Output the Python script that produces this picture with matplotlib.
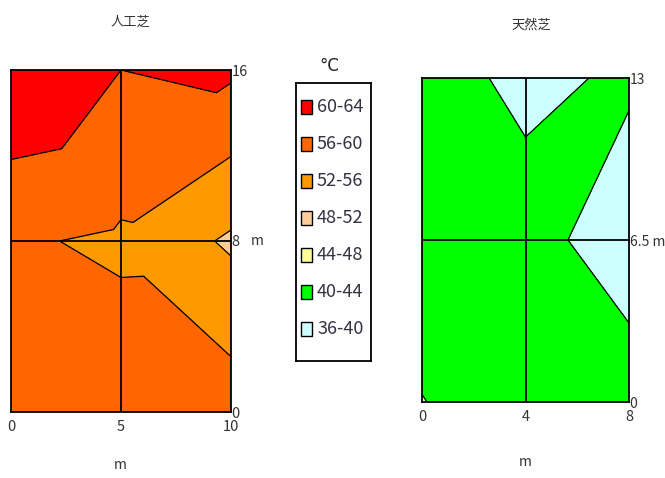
import numpy as np
import matplotlib
matplotlib.use("Agg")
import matplotlib.pyplot as plt
import matplotlib.tri as mtri
from matplotlib.patches import Rectangle

plt.rcParams['font.family'] = ['Noto Sans CJK JP', 'DejaVu Sans']

# surface temperature (degC) on a 3x3 grid of measuring points, rows = y
art_x = [0, 5, 10]
art_y = [0, 8, 16]
art_temp = [[57.5, 58.1, 58.2],
            [56.45, 55.43, 51.4],
            [63.9, 60.0, 60.7]]

nat_x = [0, 4, 8]
nat_y = [0, 6.5, 13]
nat_temp = [[39.9, 42.0, 42.38],
            [42.0, 41.74, 37.5],
            [41.84, 39.0, 40.63]]

levels = [36, 40, 44, 48, 52, 56, 60, 64]
band_names = ["36-40", "40-44", "44-48", "48-52", "52-56", "56-60", "60-64"]
band_colors = ["#ccffff", "#00ff00", "#ffff99", "#ffcc99", "#ff9900", "#ff6600", "#ff0000"]

W, H = 665, 478
fig = plt.figure(figsize=(W/100, H/100), dpi=100)
fig.patch.set_facecolor("white")

def px_axes(x0, y0, x1, y1):
    return fig.add_axes([x0/W, 1-y1/H, (x1-x0)/W, (y1-y0)/H])

def split_cells():
    # two triangles per cell; the upper-right cell is cut along the other diagonal
    tris = []
    for r in range(2):
        for c in range(2):
            bl, br, tl, tr = r*3+c, r*3+c+1, (r+1)*3+c, (r+1)*3+c+1
            if (c, r) == (1, 1):
                tris += [[bl, br, tr], [bl, tr, tl]]
            else:
                tris += [[bl, br, tl], [br, tr, tl]]
    return tris

def panel(ax, xs, ys, temp, ylabels):
    gx, gy = np.meshgrid(xs, ys)
    tri = mtri.Triangulation(gx.ravel(), gy.ravel(), split_cells())
    z = np.asarray(temp).ravel()
    ax.tricontourf(tri, z, levels=levels, colors=band_colors)
    ax.tricontour(tri, z, levels=levels, colors="black", linewidths=0.9)
    ax.axvline(xs[1], color="black", lw=1.3)
    ax.axhline(ys[1], color="black", lw=1.3)
    ax.set_xlim(xs[0], xs[-1]); ax.set_ylim(ys[0], ys[-1])
    ax.set_xticks(xs); ax.set_xticklabels([f"{v:g}" for v in xs])
    ax.set_yticks(ys); ax.set_yticklabels(ylabels)
    ax.yaxis.tick_right()
    ax.tick_params(length=0, labelsize=10.5, colors="#333333", pad=6)
    ax.tick_params(axis="y", pad=0.5)
    for s in ax.spines.values():
        s.set_linewidth(1.3); s.set_color("black")

ax1 = px_axes(11, 70, 231, 412)
panel(ax1, art_x, art_y, art_temp, ["0", "8", "16"])
ax1.annotate("m", (1, 0.5), xycoords="axes fraction", xytext=(14, 0),
             textcoords="offset points", va="center", fontsize=10, color="#333333")

ax2 = px_axes(422, 78, 629, 402)
panel(ax2, nat_x, nat_y, nat_temp, ["0", "6.5 m", "13"])
ax2.tick_params(axis="y", labelsize=10)

fig.text(130/W, 1-22/H, "人工芝", ha="center", va="center", fontsize=9.5, color="#333333")
fig.text(531/W, 1-25/H, "天然芝", ha="center", va="center", fontsize=9.5, color="#333333")
fig.text(120/W, 1-465/H, "m", ha="center", va="center", fontsize=10, color="#333333")
fig.text(525/W, 1-462/H, "m", ha="center", va="center", fontsize=10, color="#333333")
fig.text(329/W, 1-66/H, "°C", ha="center", va="center", fontsize=12, color="#222222",
         family=["DejaVu Sans"])

# legend drawn in pixel units inside its own box
lg = px_axes(296, 83, 371, 361)
lg.set_xlim(0, 75); lg.set_ylim(278, 0)
lg.set_xticks([]); lg.set_yticks([])
for s in lg.spines.values():
    s.set_linewidth(1.3)
for i, (name, col) in enumerate(zip(band_names[::-1], band_colors[::-1])):
    yc = 24 + i*37
    lg.add_patch(Rectangle((5, yc-7), 11, 14, facecolor=col, edgecolor="black", lw=1))
    lg.text(21, yc, name, va="center", ha="left", fontsize=13, color="#333344")

fig.savefig("out.png", dpi=100, facecolor="white")
